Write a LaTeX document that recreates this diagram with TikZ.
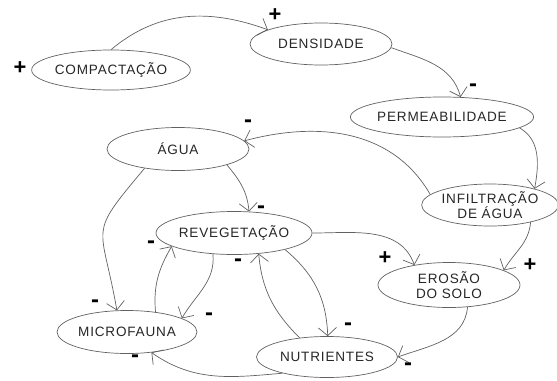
\documentclass[tikz,border=0pt]{standalone}
\usepackage{fontspec}
\setmainfont{Liberation Sans}[LetterSpace=6]
\usepackage{tikz}
\usetikzlibrary{arrows.meta,shapes.geometric,positioning}

\begin{document}
\begin{tikzpicture}[x=1bp, y=1bp,
    var/.style = {ellipse, draw=black!62, line width=0.7pt, inner sep=0pt,
        minimum width=142bp, minimum height=42bp, align=center,
        font=\fontsize{13.6}{14.5}\selectfont, text=black!85},
    link/.style = {draw=black!62, line width=0.7pt,
        -{Straight Barb[length=8bp,width=18bp]}},
    plus/.style = {inner sep=0pt, font=\fontsize{22}{22}\selectfont\bfseries},
    minus/.style = {inner sep=0pt, font=\fontsize{24}{24}\selectfont\bfseries}]
    \useasboundingbox (0,0) rectangle (557,380);

    % variables
    \node [var, minimum width=143bp, minimum height=40bp] (comp) at (111,310) {COMPACTAÇÃO};
    \node [var] (dens) at (321,336) {DENSIDADE};
    \node [var, minimum width=170bp, minimum height=40bp] (perm) at (442,263) {PERMEABILIDADE};
    \node [var, minimum height=43bp] (agua) at (178,231) {ÁGUA};
    \node [var, minimum height=43bp] (rev) at (234,147) {REVEGETAÇÃO};
    \node [var, minimum width=134bp] (infil) at (490,175) {INFILTRAÇÃO\\DE ÁGUA};
    \node [var, minimum height=45bp] (ero) at (449,95) {EROSÃO\\DO SOLO};
    \node [var, minimum width=140bp, minimum height=43bp] (micro) at (127,48) {MICROFAUNA};
    \node [var, minimum width=141bp, minimum height=41bp] (nutr) at (327,23) {NUTRIENTES};

    % links
    \draw [link] (comp.90) to [out=40, in=160] (dens.165);
    \draw [link] (dens.-3) to [out=-20, in=105] (perm.47);
    \draw [link] (perm.-8) to [out=-30, in=80] (infil.20);
    \draw [link] (infil.170) to [out=120, in=15] (agua.7);
    \draw [link] (infil.-23) to [out=-95, in=60] (ero.15);
    \draw [link] (rev.east) to [out=0, in=110] (ero.150);
    \draw [link] (agua.-18) to [out=-50, in=95] (rev.55);
    \draw [link] (agua.-150) to [out=-130, in=100, looseness=1.6] (micro.115);
    \draw [link] (micro.35) to [out=95, in=-120] (rev.-168);
    \draw [link] (rev.-135) to [out=-85, in=60] (micro.14);
    \draw [link] (nutr.145) to [out=135, in=-85] (rev.-40);
    \draw [link] (rev.-18) to [out=-40, in=92] (nutr.88);
    \draw [link] (ero.-50) to [out=-95, in=20] (nutr.east);
    \draw [link] (nutr.-160) to [out=185, in=-35] (micro.-40);

    % signs
    \node [plus] (s0) at (20,312) {+};
    \node [plus] (s1) at (275,365) {+};
    \node [minus] (s2) at (473,292) {-};
    \node [minus] (s3) at (248,256) {-};
    \node [minus] (s4) at (261,170) {-};
    \node [plus] (s5) at (385,122) {+};
    \node [plus] (s6) at (530,115) {+};
    \node [minus] (s7) at (151,135) {-};
    \node [minus] (s8) at (95,76) {-};
    \node [minus] (s9) at (209,63) {-};
    \node [minus] (s10) at (238,117) {-};
    \node [minus] (s11) at (348,53) {-};
    \node [minus] (s12) at (408,13) {-};
    \node [minus] (s13) at (135,21) {-};
\end{tikzpicture}
\end{document}
